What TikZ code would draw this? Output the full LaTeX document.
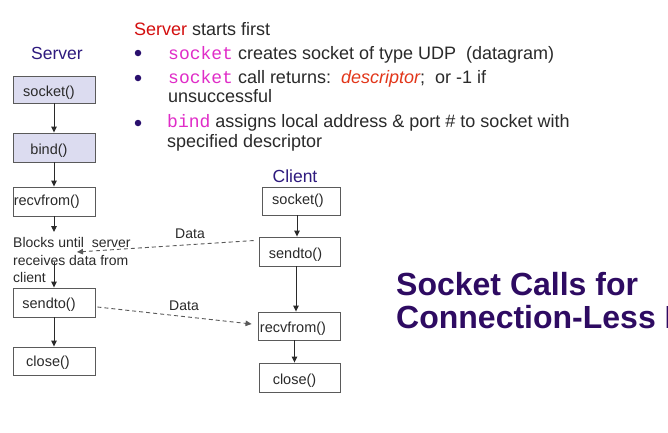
\documentclass[tikz,border=0pt]{standalone}
\usepackage{fontspec}
\setmainfont{Liberation Sans}
\setmonofont{Liberation Mono}
\usetikzlibrary{arrows.meta,calc}

\definecolor{boxfill}{HTML}{DCDCF0}
\definecolor{boxline}{HTML}{5A5A5A}
\definecolor{ink}{HTML}{2A2A2A}
\definecolor{headblue}{HTML}{2E1A7E}
\definecolor{titlepurple}{HTML}{2E0B62}
\definecolor{srvred}{HTML}{D40F0F}
\definecolor{codemag}{HTML}{E02CC8}
\definecolor{descred}{HTML}{E2361A}
\definecolor{bulletc}{HTML}{2A0F6E}

\newcommand\apicall[1]{\textcolor{codemag}{\ttfamily #1}}

\tikzset{
  callbox/.style={draw=boxline, line width=0.9pt, inner sep=0pt, fill=white},
  shadedbox/.style={callbox, fill=boxfill},
  calltext/.style={font=\fontsize{14.5}{16}\selectfont, text=ink, inner sep=0pt},
  colhead/.style={font=\fontsize{17.5}{20}\selectfont, text=headblue, inner sep=0pt},
  bodytext/.style={font=\fontsize{18}{20}\selectfont, text=ink, inner sep=0pt, anchor=base west},
  bulletdot/.style={circle, fill=bulletc, inner sep=0pt, minimum size=6.5pt},
  titletext/.style={font=\fontsize{32}{34}\selectfont\bfseries, text=titlepurple, inner sep=0pt, anchor=base west},
  flow/.style={-{Triangle[length=6pt,width=5.5pt]}, line width=0.9pt, draw=ink},
  msg/.style={-{Triangle[length=6pt,width=5.5pt]}, line width=0.9pt, draw=gray!70!black, dash pattern=on 4pt off 3pt},
  datatext/.style={font=\fontsize{14}{16}\selectfont, text=ink, inner sep=0pt}
}

\begin{document}
\begin{tikzpicture}[x=1pt, y=-1pt]
  \useasboundingbox[fill=white] (0,0) rectangle (668,432);

  % server column
  \node[colhead] (srvhead) at (57,53) {Server};
  \node[shadedbox, minimum width=82pt, minimum height=27pt] (ssock) at (54,89.5) {};
  \node[calltext] (ssock-t) at ($(ssock.center)+(-5,3)$) {socket()};
  \node[shadedbox, minimum width=82pt, minimum height=29pt] (sbind) at (54,147.5) {};
  \node[calltext] (sbind-t) at ($(sbind.center)+(-5,3)$) {bind()};
  \node[callbox, minimum width=82pt, minimum height=29pt] (srecv) at (54,201.5) {};
  \node[calltext, anchor=west] (srecv-t) at ($(srecv.west)+(1,0)$) {recvfrom()};
  \node[anchor=west, align=left, inner sep=0pt, text=ink,
        font=\fontsize{14}{17.5}\selectfont] (blocks) at (13,260)
        {Blocks until\ \ server\\receives data from\\client};
  \node[callbox, minimum width=82pt, minimum height=29pt] (ssend) at (54,302.5) {};
  \node[calltext] (ssend-t) at ($(ssend.center)+(-5,2)$) {sendto()};
  \node[callbox, minimum width=82pt, minimum height=28pt] (sclose) at (54,361) {};
  \node[calltext] (sclose-t) at ($(sclose.center)+(-6,2)$) {close()};

  \coordinate (waitin) at (54,232);
  \coordinate (waitout) at (54,262);
  \draw[flow] (ssock.south) -- (sbind.north);
  \draw[flow] (sbind.south) -- (srecv.north);
  \draw[flow] (srecv.south) -- (waitin);
  \draw[flow] (waitout) -- (ssend.north);
  \draw[flow] (ssend.south) -- (sclose.north);

  % client column
  \node[colhead] (clihead) at (295,176) {Client};
  \node[callbox, minimum width=78pt, minimum height=28pt] (csock) at (301,201) {};
  \node[calltext] (csock-t) at ($(csock.center)+(-3,0)$) {socket()};
  \node[callbox, minimum width=81pt, minimum height=29pt] (csend) at (299.5,251.5) {};
  \node[calltext] (csend-t) at ($(csend.center)+(-4,3)$) {sendto()};
  \node[callbox, minimum width=82pt, minimum height=28pt] (crecv) at (299,326) {};
  \node[calltext] (crecv-t) at ($(crecv.center)+(-6,3)$) {recvfrom()};
  \node[callbox, minimum width=81pt, minimum height=29pt] (cclose) at (299.5,377.5) {};
  \node[calltext] (cclose-t) at ($(cclose.center)+(-5,3)$) {close()};

  \draw[flow] ($(csock.south)+(-4,0)$) -- ($(csend.north)+(-2.5,0)$);
  \draw[flow] ($(csend.south)+(-3.5,0)$) -- ($(crecv.north)+(-3,0)$);
  \draw[flow] ($(crecv.south)+(-4.5,0)$) -- ($(cclose.north)+(-5,0)$);

  % datagrams between the two sides
  \coordinate (toserver) at (77,252);
  \coordinate (toclient) at ($(crecv.west)+(-6,-2)$);
  \draw[msg] ($(csend.north west)+(-5,4)$) -- (toserver);
  \draw[msg] ($(ssend.east)+(2,4.5)$) -- (toclient);
  \node[datatext] (data1) at (190,234) {Data};
  \node[datatext] (data2) at (184,306) {Data};

  % notes
  \node[bodytext] (intro) at (134,35) {\textcolor{srvred}{Server} starts first};
  \node[bulletdot] (dot1) at (138,53) {};
  \node[bodytext] (note1) at (168,59) {\apicall{socket} creates socket of type UDP\ \ (datagram)};
  \node[bulletdot] (dot2) at (138,78) {};
  \node[bodytext] (note2) at (168,83) {\apicall{socket} call returns:\ \ \textcolor{descred}{\itshape descriptor};\ \ or -1 if};
  \node[bodytext] (note2b) at (168,102) {unsuccessful};
  \node[bulletdot] (dot3) at (138,123) {};
  \node[bodytext] (note3) at (167,127) {\apicall{bind} assigns local address \& port \# to socket with};
  \node[bodytext] (note3b) at (167,147) {specified descriptor};

  % title, running off the right edge
  \begin{scope}
    \clip (0,0) rectangle (668,432);
    \node[titletext] (title1) at (396,295) {Socket Calls for};
    \node[titletext] (title2) at (396,328) {Connection-Less P};
  \end{scope}
\end{tikzpicture}
\end{document}
